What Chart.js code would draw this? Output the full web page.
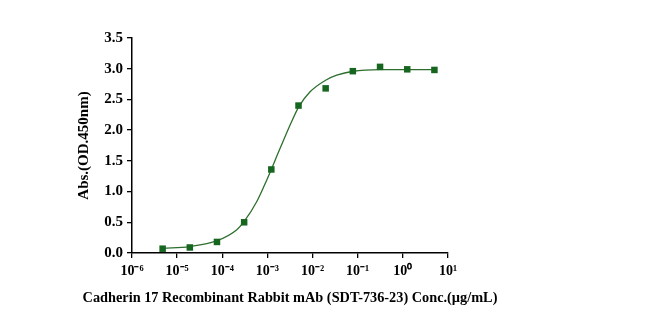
<!DOCTYPE html>
<html>
<head>
<meta charset="utf-8">
<script src="https://cdn.jsdelivr.net/npm/chart.js@4.4.1/dist/chart.umd.min.js"></script>
<style>
  html, body { margin: 0; padding: 0; background: #fff; }
  #wrap { width: 650px; height: 325px; }
</style>
</head>
<body>
<div id="wrap"><canvas id="chart-ec50"></canvas></div>
<script>
// measured points (conc in ug/mL, 4-fold dilution)
var concentrations = [0.00000477, 0.0000191, 0.0000763, 0.000305, 0.00122, 0.00488, 0.0195, 0.078, 0.3125, 1.25, 5];
var absorbance = [0.07, 0.09, 0.18, 0.50, 1.36, 2.40, 2.68, 2.96, 3.03, 2.99, 2.98];

// fitted curve
var curveConc = [0.00000484, 0.0000188, 0.0000771, 0.00021, 0.000305, 0.000582, 0.000968, 0.00191, 0.00318, 0.00494, 0.00881, 0.0195, 0.0343, 0.0787, 0.311, 4.95];
var curveAbs = [0.075, 0.105, 0.20, 0.378, 0.513, 0.838, 1.19, 1.704, 2.083, 2.38, 2.624, 2.813, 2.894, 2.959, 2.986, 2.986];

var yTicks = [0, 0.5, 1.0, 1.5, 2.0, 2.5, 3.0, 3.5];
var xExponents = [-6, -5, -4, -3, -2, -1, 0, 1];

var xTitle = 'Cadherin 17 Recombinant Rabbit mAb (SDT-736-23) Conc.(\u00b5g/mL)';
var yTitle = 'Abs.(OD.450nm)';

var supMap = { '-': '\u207b', '0': '\u2070', '1': '\u00b9', '2': '\u00b2', '3': '\u00b3', '4': '\u2074', '5': '\u2075', '6': '\u2076', '7': '\u2077', '8': '\u2078', '9': '\u2079' };
function sup(n) {
    return String(n).split('').map(function (c) { return supMap[c]; }).join('');
}

var green = '#17661f';
var serif = '"Liberation Serif", "Times New Roman", serif';

var pts = concentrations.map(function (c, i) { return { x: c, y: absorbance[i] }; });
var fit = curveConc.map(function (c, i) { return { x: c, y: curveAbs[i] }; });

// the built-in scale title squeezes text to the axis width, the label here is wider
var xTitlePlugin = {
    id: 'xTitle',
    afterDraw: function (chart) {
        var ctx = chart.ctx, a = chart.chartArea;
        ctx.save();
        ctx.font = 'bold 14.3px ' + serif;
        ctx.fillStyle = '#000';
        ctx.textAlign = 'center';
        ctx.textBaseline = 'middle';
        ctx.fillText(xTitle, (a.left + a.right) / 2, 298);
        ctx.restore();
    }
};

new Chart(document.getElementById('chart-ec50').getContext('2d'), {
    type: 'scatter',
    data: {
        datasets: [
            {
                label: 'data',
                data: pts,
                order: 0,
                pointStyle: 'rect',
                pointRadius: 4.6,
                backgroundColor: green,
                borderColor: green,
                borderWidth: 0
            },
            {
                label: 'fit',
                data: fit,
                order: 1,
                showLine: true,
                pointRadius: 0,
                borderColor: '#2d6e2d',
                borderWidth: 1.3,
                cubicInterpolationMode: 'monotone'
            }
        ]
    },
    plugins: [xTitlePlugin],
    options: {
        responsive: true,
        maintainAspectRatio: false,
        animation: false,
        layout: { padding: { left: 71, right: 202, top: 38, bottom: 14 } },
        plugins: { legend: { display: false }, tooltip: { enabled: false } },
        scales: {
            x: {
                type: 'logarithmic',
                min: 1e-6,
                max: 10,
                afterBuildTicks: function (scale) {
                    scale.ticks = xExponents.map(function (e) { return { value: Number('1e' + e) }; });
                },
                afterFit: function (scale) { scale.height = 58; },
                grid: { display: true, drawOnChartArea: false, drawTicks: true, tickLength: 5, color: '#000', lineWidth: 1.3 },
                border: { display: true, color: '#000', width: 1.5 },
                ticks: {
                    color: '#000',
                    padding: 5,
                    maxRotation: 0,
                    autoSkip: false,
                    font: { family: serif, size: 14, weight: 'bold' },
                    callback: function (v) { return '10' + sup(Math.round(Math.log10(v))); }
                },
                title: { display: false }
            },
            y: {
                min: 0,
                max: 3.5,
                afterBuildTicks: function (scale) {
                    scale.ticks = yTicks.map(function (v) { return { value: v }; });
                },
                afterFit: function (scale) { scale.width = 61; },
                grid: { display: true, drawOnChartArea: false, drawTicks: true, tickLength: 5, color: '#000', lineWidth: 1.3 },
                border: { display: true, color: '#000', width: 1.5 },
                ticks: {
                    color: '#000',
                    padding: 4,
                    font: { family: serif, size: 15, weight: 'bold' },
                    callback: function (v) { return v.toFixed(1); }
                },
                title: {
                    display: true,
                    text: yTitle,
                    color: '#000',
                    padding: { top: 4, bottom: 4 },
                    font: { family: serif, size: 15, weight: 'bold' }
                }
            }
        }
    }
});
</script>
</body>
</html>
